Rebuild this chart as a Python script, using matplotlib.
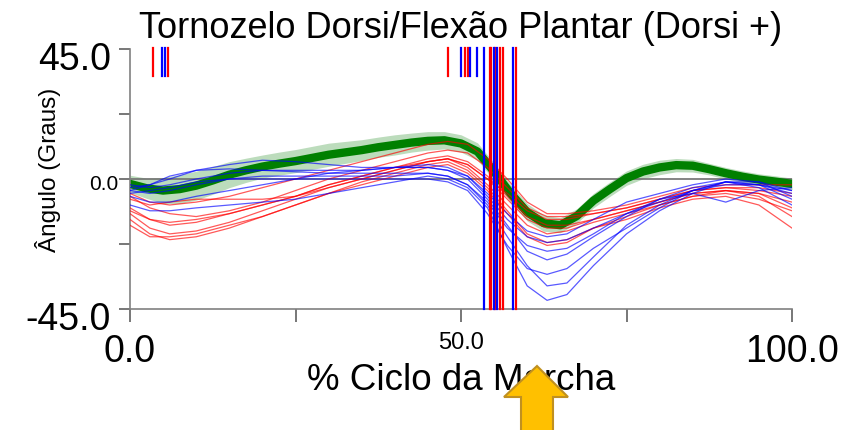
import matplotlib
matplotlib.use("Agg")
import matplotlib.pyplot as plt
from matplotlib.patches import Polygon
import matplotlib.transforms as mtransforms
import numpy as np

plt.rcParams['font.family'] = ['Liberation Sans', 'DejaVu Sans']

# ---------------- data ----------------
mean_pct = [0, 2.5, 5, 7.5, 10, 12.5, 15, 17.5, 20, 22.5, 25, 27.5, 30, 32.5, 35, 37.5, 40,
            42.5, 45, 47.5, 50, 52.5, 55, 57.5, 60, 62.5, 65, 67.5, 70, 72.5, 75, 77.5, 80,
            82.5, 85, 87.5, 90, 92.5, 95, 97.5, 100]
mean_curve = [-1.7, -3.2, -4.0, -3.5, -2.3, -0.5, 1.5, 3.0, 4.3, 5.3, 6.2, 7.3, 8.4, 9.2, 10.0,
              11.0, 11.8, 12.6, 13.2, 13.4, 12.3, 9.5, 2.5, -5.0, -11.5, -15.3, -16.0, -12.8,
              -7.5, -3.5, 0.3, 2.6, 4.0, 4.8, 4.6, 3.4, 2.0, 0.8, -0.2, -0.9, -1.7]
mean_sd = [3.0, 3.5, 4.5, 5.0, 5.0, 4.8, 4.5, 4.2, 4.0, 4.0, 4.0, 4.0, 4.0, 3.8, 3.6, 3.5,
           3.5, 3.3, 3.2, 3.0, 3.0, 3.0, 3.0, 3.0, 3.0, 2.8, 2.6, 2.5, 2.5, 2.5, 2.5, 2.5,
           2.5, 2.3, 2.2, 2.0, 2.0, 2.0, 2.0, 2.0, 2.0]

pct = [0, 3, 6, 10, 15, 20, 25, 30, 35, 40, 45, 48, 51, 54, 57, 60, 63, 66, 70, 75, 80, 85, 90, 95, 100]

red_curves = [
    [-5, -8, -9, -8, -6, -3, 0, 3, 6, 9, 12, 13, 12, 7, 0, -8, -12, -12, -11, -9, -6, -3, -2, -2, -2],
    [-7, -9, -8, -7, -7, -7, -6, -3, 0, 3, 6, 7, 5, 0, -5, -11, -14, -14, -12, -10, -7, -4, -3, -4, -6],
    [-10, -14, -16, -15, -12, -9, -6, -2, 1, 4, 7, 8, 6, 1, -6, -13, -16, -16, -14, -11, -8, -5, -4, -5, -8],
    [-12, -17, -19, -18, -15, -11, -7, -3, 0, 3, 6, 7, 4, -2, -9, -16, -19, -18, -15, -12, -9, -6, -5, -7, -11],
    [-14, -19, -21, -20, -17, -13, -9, -5, -1, 2, 5, 6, 3, -3, -11, -19, -22, -21, -17, -13, -9, -6, -4, -6, -13],
    [-16, -20, -20, -19, -16, -13, -9, -5, -2, 1, 4, 5, 2, -4, -12, -20, -23, -22, -17, -14, -10, -7, -6, -9, -17],
    [-6, -10, -12, -13, -11, -8, -4, 0, 3, 6, 9, 10, 9, 4, -3, -10, -13, -13, -12, -10, -7, -4, -3, -3, -5],
    [-11, -14, -15, -14, -12, -9, -6, -2, 1, 4, 6, 7, 5, 0, -7, -14, -17, -17, -14, -11, -8, -5, -4, -5, -10],
]

blue_curves = [
    [-3, -2, 0, 3, 5, 6.5, 6, 5, 4, 4, 4, 3, 1, -5, -12, -18, -20, -19, -14, -8, -5, -2, 0, -1, -4],
    [-4, -2, 1, 3, 3.5, 3, 2.5, 2, 2, 2, 2, 1, -2, -8, -17, -23, -25, -24, -19, -12, -7, -3, -1, -2, -5],
    [-5, -4, -3, -1, 0, 0, 0, 0, 0, 0, 0, -1, -4, -12, -23, -31, -33, -31, -24, -17, -10, -4, -1, -1, -6],
    [-6, -8, -8, -6, -4, -2, 0, 2, 3, 4, 5, 4, 1, -6, -14, -20, -22, -21, -17, -12, -8, -4, -2, -2, -4],
    [-9, -11, -11, -10, -9, -8, -7, -5, -3, -1, 1, 0, -3, -10, -24, -37, -42, -40, -30, -19, -11, -5, -1, -2, -7],
    [-2, -3, -2, 0, 2, 3, 3, 3, 3, 4, 4, 3, 0, -7, -16, -25, -28, -26, -20, -13, -7, -5, -8, -4, -3],
    [-4, -5, -4, -2, 0, 1, 1, 1, 1, 1, 2, 1, -2, -9, -20, -30, -37, -36, -27, -16, -9, -4, -1, -3, -9],
]

# event markers (% of cycle)
short_red = [3.5, 5.7, 48.0, 50.6, 51.0]
short_blue = [4.8, 5.3, 50.0, 51.3, 52.4]
long_red = [54.4, 54.6, 55.2, 55.9, 56.3, 58.3]
long_blue = [53.4, 55.0, 55.5, 57.9]

yticks = [-45, -22.5, 0, 22.5, 45]
ytick_labels = ['-45.0', '', '0.0', '', '45.0']
xticks = [0, 25, 50, 75, 100]
xtick_labels = ['0.0', '', '50.0', '', '100.0']

# ---------------- figure ----------------
W, H = 864, 431
fig = plt.figure(figsize=(W / 100, H / 100), dpi=100)
ax = fig.add_axes([130 / W, 1 - 310 / H, 662 / W, 260 / H])

mx = np.array(mean_pct)
m = np.array(mean_curve)
s = np.array(mean_sd)
ax.fill_between(mx, m - s, m + s, color='#bcdcbc', linewidth=0, zorder=1)
ax.plot(mx, m, color='#008000', linewidth=6, solid_capstyle='round',
        solid_joinstyle='round', zorder=2)

x = np.array(pct)
for c in red_curves:
    ax.plot(x, c, color='#ff0000', linewidth=0.9, alpha=0.65, zorder=3)
for c in blue_curves:
    ax.plot(x, c, color='#0000ff', linewidth=0.9, alpha=0.65, zorder=3)

ax.axhline(0, color='#707070', linewidth=1.2, zorder=1.5)

for v in short_red:
    ax.plot([v, v], [35.5, 45.5], color='#ff0000', linewidth=1.6, zorder=4, clip_on=False)
for v in short_blue:
    ax.plot([v, v], [35.5, 45.5], color='#0000ff', linewidth=1.6, zorder=4, clip_on=False)
for v in long_red:
    ax.plot([v, v], [-45, 45.5], color='#ff0000', linewidth=1.6, zorder=4, clip_on=False)
for v in long_blue:
    ax.plot([v, v], [-45, 45.5], color='#0000ff', linewidth=1.6, zorder=4, clip_on=False)

ax.set_xlim(0, 100)
ax.set_ylim(-45, 45)
for sp in ['top', 'right']:
    ax.spines[sp].set_visible(False)
for sp in ['left', 'bottom']:
    ax.spines[sp].set_color('#808080')
    ax.spines[sp].set_linewidth(1.2)

ax.set_yticks(yticks)
ax.set_yticklabels(ytick_labels)
ax.set_xticks(xticks)
ax.set_xticklabels(xtick_labels)
ax.tick_params(axis='y', direction='out', length=8, width=1.2, color='#606060', pad=2)
ax.tick_params(axis='x', direction='out', length=9, width=1.2, color='#606060', pad=3)


def shift(lab, dx_px, dy_px):
    off = mtransforms.ScaledTranslation(dx_px / 100, dy_px / 100, fig.dpi_scale_trans)
    lab.set_transform(lab.get_transform() + off)


for lab in ax.get_yticklabels():
    if lab.get_text() == '0.0':
        lab.set_fontsize(15)
        shift(lab, 2, -3)
    else:
        lab.set_fontsize(27)
        shift(lab, -5, -6)
for lab in ax.get_xticklabels():
    if lab.get_text() == '50.0':
        lab.set_fontsize(17)
        shift(lab, 0, -5)
    else:
        lab.set_fontsize(27)
        shift(lab, 0, -7)

ax.text(0.5, (310 - 29) / 260, 'Tornozelo Dorsi/Flexão Plantar (Dorsi +)', fontsize=26,
        ha='center', va='center', transform=ax.transAxes)
ax.set_xlabel('% Ciclo da Marcha', fontsize=26.5, va='center')
ax.xaxis.set_label_coords(0.5, (310 - 381) / 260)
ax.set_ylabel('Ângulo (Graus)', fontsize=17.5, va='center')
ax.yaxis.set_label_coords((48 - 130) / 662, (310 - 170) / 260)

# highlight arrow (figure pixel coordinates)
arrow_px = [(537, 367), (568, 398), (553, 398), (553, 440), (521, 440), (521, 398), (504, 398)]
arrow_fig = [(px / W, 1 - py / H) for px, py in arrow_px]
fig.patches.append(Polygon(arrow_fig, closed=True, transform=fig.transFigure,
                           facecolor='#ffc000', edgecolor='#c09020', linewidth=1.5, zorder=10))

fig.savefig('out.png', dpi=100)
